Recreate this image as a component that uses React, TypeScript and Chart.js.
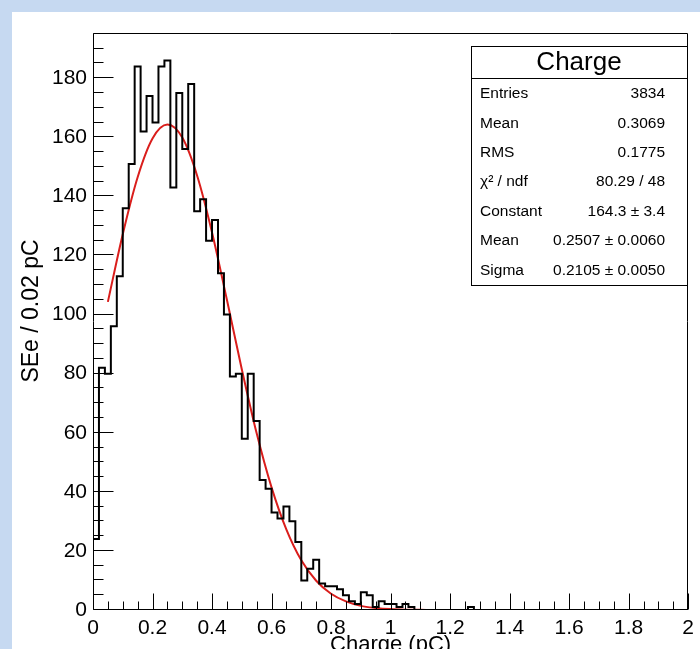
import React, { useEffect, useRef } from 'react';
import { Chart, registerables } from 'chart.js';

Chart.register(...registerables);

// ---------- data ----------
const BIN_WIDTH = 0.02;
const X_MIN = 0;
const X_MAX = 2;
const Y_MAX = 195.3;

// histogram counts per 0.02 pC bin (100 bins, 0..2 pC)
const counts: number[] = [
  24, 82, 80, 96, 113, 136, 151, 184, 162, 174,
  165, 184, 186, 143, 175, 156, 178, 135, 139, 125,
  132, 114, 100, 79, 80, 58, 80, 64, 44, 41,
  33, 31, 35, 30, 23, 10, 14, 17, 9, 8,
  8, 7, 5, 3, 2, 6, 5, 1, 3, 2,
  2, 1, 2, 1, 0, 0, 0, 0, 0, 0,
  0, 0, 0, 1, 0, 0, 0, 0, 0, 0,
  0, 0, 0, 0, 0, 0, 0, 0, 0, 0,
  0, 0, 0, 0, 0, 0, 0, 0, 0, 0,
  0, 0, 0, 0, 0, 0, 0, 0, 0, 0,
];

// gaussian fit curve
const fitX: number[] = [0.05, 0.1, 0.15, 0.2, 0.25, 0.3, 0.35, 0.4, 0.45, 0.5, 0.55, 0.6, 0.65, 0.7, 0.75, 0.8, 0.85, 0.9, 0.95, 1.0, 1.05, 1.1, 1.13];
const fitY: number[] = [104.3, 127.2, 146.5, 159.6, 164.3, 159.9, 147.0, 127.8, 105.0, 81.5, 59.8, 41.5, 27.2, 16.8, 9.9, 5.5, 2.9, 1.4, 0.7, 0.3, 0.12, 0.05, 0.02];

const statTitle = 'Charge';
const statLabels: string[] = ['Entries', 'Mean', 'RMS', 'χ² / ndf', 'Constant', 'Mean', 'Sigma'];
const statValues: string[] = ['3834', '0.3069', '0.1775', '80.29 / 48', '164.3 ± 3.4', '0.2507 ± 0.0060', '0.2105 ± 0.0050'];

const xTitle = 'Charge (pC)';
const yTitle = 'SEe / 0.02 pC';

const Y_MAJOR = 20;
const Y_MINOR = 5;
const X_MAJOR = 0.2;
const X_MINOR = 0.05;

const FONT = '"Liberation Sans", Arial, Helvetica, sans-serif';

const rootPlugin = {
  id: 'rootStyle',
  beforeDraw(chart: any) {
    const ctx = chart.ctx;
    ctx.save();
    ctx.fillStyle = '#c6d9f1';
    ctx.fillRect(0, 0, chart.width, chart.height);
    ctx.fillStyle = '#ffffff';
    ctx.fillRect(12, 12, chart.width - 12, chart.height - 12);
    ctx.restore();
  },
  afterDatasetsDraw(chart: any) {
    const ctx = chart.ctx;
    const a = chart.chartArea;
    const xs = chart.scales.x;
    const ys = chart.scales.y;
    ctx.save();
    ctx.strokeStyle = '#000';
    ctx.lineWidth = 1;
    // frame
    const L = Math.round(a.left) + 0.5;
    const R = Math.round(a.right) - 0.5;
    const T = Math.round(a.top) + 0.5;
    const B = Math.round(a.bottom) - 0.5;
    ctx.beginPath();
    ctx.rect(L, T, R - L, B - T);
    ctx.stroke();
    // ticks
    ctx.beginPath();
    const nY = Math.floor(Y_MAX / Y_MINOR);
    for (let k = 0; k <= nY; k++) {
      const v = k * Y_MINOR;
      const py = Math.round(ys.getPixelForValue(v)) - 0.5;
      const len = (k % (Y_MAJOR / Y_MINOR) === 0) ? 20 : 10;
      ctx.moveTo(L, py);
      ctx.lineTo(L + len, py);
    }
    const nX = Math.round((X_MAX - X_MIN) / X_MINOR);
    for (let k = 0; k <= nX; k++) {
      const v = X_MIN + k * X_MINOR;
      const px = Math.round(xs.getPixelForValue(v)) + 0.5;
      const len = (k % Math.round(X_MAJOR / X_MINOR) === 0) ? 16 : 8;
      ctx.moveTo(px, B);
      ctx.lineTo(px, B - len);
    }
    ctx.stroke();

    // axis titles
    ctx.fillStyle = '#000';
    ctx.font = `22px ${FONT}`;
    ctx.textAlign = 'center';
    ctx.textBaseline = 'top';
    ctx.fillText(xTitle, (a.left + a.right) / 2, 634);
    ctx.save();
    ctx.font = `23px ${FONT}`;
    ctx.translate(32, 311);
    ctx.rotate(-Math.PI / 2);
    ctx.textBaseline = 'middle';
    ctx.fillText(yTitle, 0, 0);
    ctx.restore();
    ctx.restore();
  },
  afterDraw(chart: any) {
    const ctx = chart.ctx;
    ctx.save();
    const bx = 471, by = 46, bw = 216, bh = 239;
    ctx.fillStyle = '#fff';
    ctx.fillRect(bx, by, bw, bh);
    ctx.strokeStyle = '#000';
    ctx.lineWidth = 1;
    ctx.strokeRect(bx + 0.5, by + 0.5, bw, bh);
    ctx.beginPath();
    ctx.moveTo(bx, 78.5);
    ctx.lineTo(bx + bw, 78.5);
    ctx.stroke();
    ctx.fillStyle = '#000';
    ctx.font = `26px ${FONT}`;
    ctx.textAlign = 'center';
    ctx.textBaseline = 'middle';
    ctx.fillText(statTitle, bx + bw / 2, 63);
    ctx.font = `15.5px ${FONT}`;
    for (let i = 0; i < statLabels.length; i++) {
      const cy = 94 + i * 29.4;
      ctx.textAlign = 'left';
      ctx.fillText(statLabels[i], 480, cy);
      ctx.textAlign = 'right';
      ctx.fillText(statValues[i], 665, cy);
    }
    ctx.restore();
  },
};

export default function App() {
  const ref = useRef<HTMLCanvasElement | null>(null);
  useEffect(() => {
    document.body.style.margin = '0';
    const histPoints = counts.map((c, i) => ({ x: X_MIN + i * BIN_WIDTH, y: c }));
    histPoints.push({ x: X_MAX, y: counts[counts.length - 1] });
    const fitPoints = fitX.map((x, i) => ({ x, y: fitY[i] }));
    const chart = new Chart(ref.current as HTMLCanvasElement, {
      type: 'line',
      data: {
        datasets: [
          {
            data: histPoints,
            stepped: true,
            borderColor: '#000',
            borderWidth: 2,
            pointRadius: 0,
            fill: false,
          },
          {
            data: fitPoints,
            borderColor: 'rgb(218,30,28)',
            borderWidth: 2,
            pointRadius: 0,
            fill: false,
            cubicInterpolationMode: 'monotone',
          },
        ],
      } as any,
      options: {
        animation: false,
        responsive: false,
        layout: { padding: { top: 33, right: 9, left: 0, bottom: 0 } },
        plugins: { legend: { display: false }, tooltip: { enabled: false } },
        scales: {
          x: {
            type: 'linear',
            min: X_MIN,
            max: X_MAX,
            grid: { display: false, drawTicks: false },
            border: { display: false },
            afterFit: (s: any) => { s.height = 39; },
            ticks: {
              stepSize: X_MAJOR,
              padding: 6,
              maxRotation: 0,
              autoSkip: false,
              color: '#000',
              font: { family: FONT, size: 21 },
              callback: (v: any) => String(Math.round(Number(v) * 10) / 10),
            },
          },
          y: {
            type: 'linear',
            min: 0,
            max: Y_MAX,
            grid: { display: false, drawTicks: false },
            border: { display: false },
            afterFit: (s: any) => { s.width = 93; },
            ticks: {
              stepSize: Y_MAJOR,
              includeBounds: false,
              padding: 6,
              color: '#000',
              font: { family: FONT, size: 21 },
              callback: (v: any) => (Math.abs(Number(v) % Y_MAJOR) < 1e-6 ? String(v) : ''),
            },
          },
        },
      } as any,
      plugins: [rootPlugin],
    });
    return () => chart.destroy();
  }, []);
  return (
    <div style={{ position: 'relative', width: 700, height: 649, overflow: 'hidden' }}>
      <canvas ref={ref} width={700} height={649} />
    </div>
  );
}
